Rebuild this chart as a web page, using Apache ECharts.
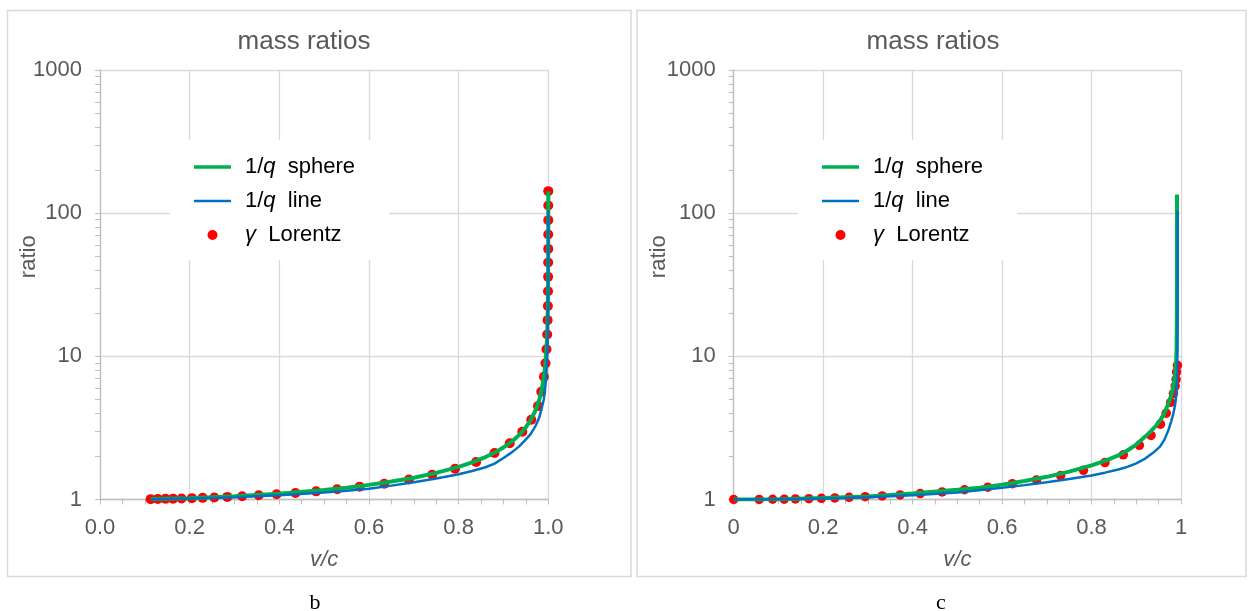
<!DOCTYPE html>
<html>
<head>
<meta charset="utf-8">
<script src="https://cdn.jsdelivr.net/npm/echarts@6/dist/echarts.min.js"></script>
<style>
html,body{margin:0;padding:0;background:#fff;}
#chart{width:1249px;height:611px;}
</style>
</head>
<body>
<div id="chart"></div>
<script>
// ---------- Panel b data ----------
const bLorentzV = [0.113,0.129,0.146,0.163,0.182,0.205,0.229,0.255,0.284,0.317,0.354,0.394,0.436,0.482,0.529,0.579,0.634,0.689,0.741,0.792,0.839,0.880,0.914,0.942,0.962,0.977,0.9843,0.9903,0.9937,0.9960,0.99752,0.99844,0.99901,0.99938,0.99961,0.99976,0.99984,0.99990,0.999937,0.999961,0.999975];
const bLorentzG = [1.006,1.008,1.011,1.014,1.017,1.022,1.027,1.034,1.043,1.055,1.07,1.088,1.11,1.14,1.18,1.23,1.29,1.38,1.49,1.64,1.83,2.11,2.47,2.97,3.61,4.49,5.66,7.21,8.93,11.2,14.2,17.9,22.5,28.5,35.9,45.2,56.3,71,89.4,113,142.5];
const bSphereV = [0.113,0.2,0.3,0.4,0.5,0.55,0.6,0.65,0.7,0.75,0.8,0.83,0.86,0.88,0.9,0.92,0.935,0.95,0.96,0.97,0.975,0.98,0.985,0.99,0.993,0.995,0.997,0.998,0.999,0.9995,0.9998,1.0];
const bSphereG = [1.007,1.022,1.052,1.098,1.165,1.21,1.265,1.335,1.42,1.535,1.69,1.815,1.98,2.12,2.31,2.56,2.82,3.2,3.56,4.1,4.5,5.0,5.8,7.1,8.5,10,13,16,22,32,50,142];
const bLineV = [0.113,0.2,0.3,0.4,0.5,0.55,0.6,0.65,0.7,0.75,0.8,0.83,0.86,0.88,0.9,0.92,0.935,0.95,0.96,0.97,0.975,0.98,0.985,0.99,0.993,0.995,0.997,0.998,0.999,0.9995,0.9998,1.0];
const bLineG = [1.005,1.016,1.038,1.072,1.12,1.15,1.19,1.25,1.32,1.40,1.50,1.58,1.68,1.78,1.95,2.15,2.35,2.63,2.85,3.2,3.45,3.75,4.3,5.0,6.0,7.0,9.0,11,16,24,40,105];

// ---------- Panel c data ----------
const cLorentzV = [0,0.057,0.087,0.113,0.138,0.168,0.196,0.226,0.258,0.294,0.332,0.372,0.417,0.466,0.516,0.568,0.623,0.677,0.731,0.782,0.830,0.871,0.907,0.933,0.954,0.967,0.977,0.983,0.987,0.989,0.990,0.992];
const cLorentzG = [1.0,1.002,1.004,1.006,1.01,1.014,1.02,1.026,1.035,1.046,1.06,1.077,1.10,1.13,1.17,1.22,1.29,1.37,1.47,1.60,1.81,2.05,2.39,2.80,3.36,4.01,4.77,5.49,6.2,6.9,7.77,8.65];
const cSphereV = [0,0.1,0.2,0.3,0.4,0.5,0.55,0.6,0.65,0.7,0.75,0.8,0.83,0.86,0.88,0.9,0.92,0.933,0.945,0.954,0.962,0.967,0.972,0.977,0.981,0.984,0.987,0.989,0.990,0.9905,0.991,0.991];
const cSphereG = [1.0,1.006,1.023,1.05,1.10,1.17,1.21,1.27,1.345,1.44,1.565,1.73,1.86,2.03,2.2,2.42,2.75,3.0,3.3,3.6,3.95,4.3,4.7,5.2,5.8,6.5,7.6,9,11,15,30,135];
const cLineV = [0,0.1,0.2,0.3,0.4,0.5,0.6,0.65,0.7,0.75,0.8,0.83,0.86,0.88,0.9,0.92,0.94,0.953,0.963,0.972,0.978,0.983,0.987,0.989,0.9905,0.9915,0.992,0.9925,0.9925];
const cLineG = [1.0,1.004,1.015,1.035,1.07,1.12,1.21,1.26,1.32,1.39,1.47,1.54,1.62,1.69,1.79,1.93,2.15,2.34,2.62,3.06,3.5,4.0,4.6,5.23,6.2,8,12,30,104];

// ---------- Axis / text ----------
const yTicks = [1, 10, 100, 1000];
const xTicksB = ['0.0','0.2','0.4','0.6','0.8','1.0'];
const xTicksC = ['0','0.2','0.4','0.6','0.8','1'];
const titles = ['mass ratios', 'mass ratios'];
const captions = ['b', 'c'];
const legendNames = {
  sphere: '1/{q|q}  sphere',
  line: '1/{q|q}  line',
  lorentz: '{q|γ}  Lorentz'
};

const zip = (xs, ys) => xs.map((x, i) => [x, ys[i]]);
const FONT = '"Liberation Sans", Arial, sans-serif';
const GREEN = '#00b050', BLUE = '#0070c0', RED = '#ff0000';
const AXIS = '#bfbfbf', GRID = '#d9d9d9', LBL = '#595959';

function xAxis(gi, labels, nameGap) {
  return {
    type: 'value', gridIndex: gi, min: 0, max: 1, interval: 0.2,
    axisLine: { show: true, lineStyle: { color: AXIS, width: 1.3 } },
    axisTick: { show: true, length: 5, lineStyle: { color: AXIS } },
    minorTick: { show: true, splitNumber: 4, length: 5, lineStyle: { color: AXIS } },
    splitLine: { show: true, lineStyle: { color: GRID, width: 1.3 } },
    axisLabel: { color: LBL, fontSize: 22, fontFamily: FONT, margin: 17,
      formatter: v => labels[Math.round(v / 0.2)] },
    name: 'v/c', nameLocation: 'middle', nameGap: nameGap, nameMoveOverlap: false,
    nameTextStyle: { color: LBL, fontSize: 22, fontFamily: FONT, fontStyle: 'italic' }
  };
}
function yAxis(gi, nameGap) {
  return {
    type: 'log', logBase: 10, gridIndex: gi, min: yTicks[0], max: yTicks[yTicks.length - 1],
    axisLine: { show: true, lineStyle: { color: AXIS, width: 1.3 } },
    axisTick: { show: true, length: 5, lineStyle: { color: AXIS } },
    minorTick: { show: true, splitNumber: 9, length: 5, lineStyle: { color: AXIS } },
    splitLine: { show: true, lineStyle: { color: GRID, width: 1.3 } },
    axisLabel: { color: LBL, fontSize: 22, fontFamily: FONT, margin: 18,
      formatter: v => String(Math.round(v)) },
    name: 'ratio', nameLocation: 'middle', nameGap: nameGap, nameRotate: 90, nameMoveOverlap: false,
    nameTextStyle: { color: LBL, fontSize: 22, fontFamily: FONT, padding: [0, 0, 0, 56] }
  };
}
function legend(left, top, suffix) {
  return {
    left: left, top: top, orient: 'vertical', selectedMode: false,
    backgroundColor: '#fff', padding: [15, 34, 13, 24],
    itemWidth: 37, itemHeight: 10, itemGap: 10, symbolKeepAspect: true,
    data: [
      { name: 'sphere' + suffix, icon: 'path://M0,0H37V3.5H0Z' },
      { name: 'line' + suffix, icon: 'path://M0,0H37V2.7H0Z' },
      { name: 'lorentz' + suffix, icon: 'circle' }
    ],
    formatter: n => legendNames[n.replace(/[BC]$/, '')],
    textStyle: { color: '#000', fontSize: 22, fontFamily: FONT, lineHeight: 24, padding: [0, 0, 0, 9],
      rich: { q: { fontStyle: 'italic', fontSize: 22, color: '#000', fontFamily: FONT, lineHeight: 24 } } }
  };
}
function lineSeries(name, gi, data, color, width) {
  return { name, type: 'line', xAxisIndex: gi, yAxisIndex: gi, data, symbol: 'none',
    showSymbol: false, silent: true, animation: false,
    lineStyle: { color, width }, itemStyle: { color } };
}
function dotSeries(name, gi, data, size) {
  return { name, type: 'scatter', xAxisIndex: gi, yAxisIndex: gi, data, symbol: 'circle',
    symbolSize: size, silent: true, animation: false, itemStyle: { color: RED, opacity: 1 } };
}

const chart = echarts.init(document.getElementById('chart'), null, { renderer: 'canvas' });
chart.setOption({
  animation: false,
  backgroundColor: '#fff',
  title: [
    { text: titles[0], left: 299, top: 24, textAlign: 'center',
      textStyle: { color: LBL, fontSize: 26, fontWeight: 'normal', fontFamily: FONT } },
    { text: titles[1], left: 928, top: 24, textAlign: 'center',
      textStyle: { color: LBL, fontSize: 26, fontWeight: 'normal', fontFamily: FONT } }
  ],
  grid: [
    { left: 100, top: 70, width: 448.3, height: 429.5, containLabel: false },
    { left: 733.7, top: 70, width: 447.3, height: 429.5, containLabel: false }
  ],
  xAxis: [xAxis(0, xTicksB, 49), xAxis(1, xTicksC, 49)],
  yAxis: [yAxis(0, 60), yAxis(1, 64)],
  legend: [
    legend(170, 140, 'B'),
    legend(798, 140, 'C')
  ],
  graphic: [
    { type: 'rect', z: -10, silent: true, shape: { x: 7.5, y: 10.5, width: 623.5, height: 566 },
      style: { fill: 'none', stroke: '#d9d9d9', lineWidth: 1.5 } },
    { type: 'rect', z: -10, silent: true, shape: { x: 637, y: 10.5, width: 609, height: 566 },
      style: { fill: 'none', stroke: '#d9d9d9', lineWidth: 1.5 } },
    { type: 'text', silent: true, x: 315, y: 603,
      style: { text: captions[0], font: '22px "Liberation Serif", serif', fill: '#000', align: 'center', verticalAlign: 'middle' } },
    { type: 'text', silent: true, x: 941, y: 603,
      style: { text: captions[1], font: '22px "Liberation Serif", serif', fill: '#000', align: 'center', verticalAlign: 'middle' } }
  ],
  series: [
    lineSeries('sphereB', 0, zip(bSphereV, bSphereG), GREEN, 4),
    lineSeries('lineB', 0, zip(bLineV, bLineG), BLUE, 2.5),
    dotSeries('lorentzB', 0, zip(bLorentzV, bLorentzG), 10),
    lineSeries('sphereC', 1, zip(cSphereV, cSphereG), GREEN, 4),
    lineSeries('lineC', 1, zip(cLineV, cLineG), BLUE, 2.5),
    dotSeries('lorentzC', 1, zip(cLorentzV, cLorentzG), 9.5)
  ]
});
</script>
</body>
</html>
